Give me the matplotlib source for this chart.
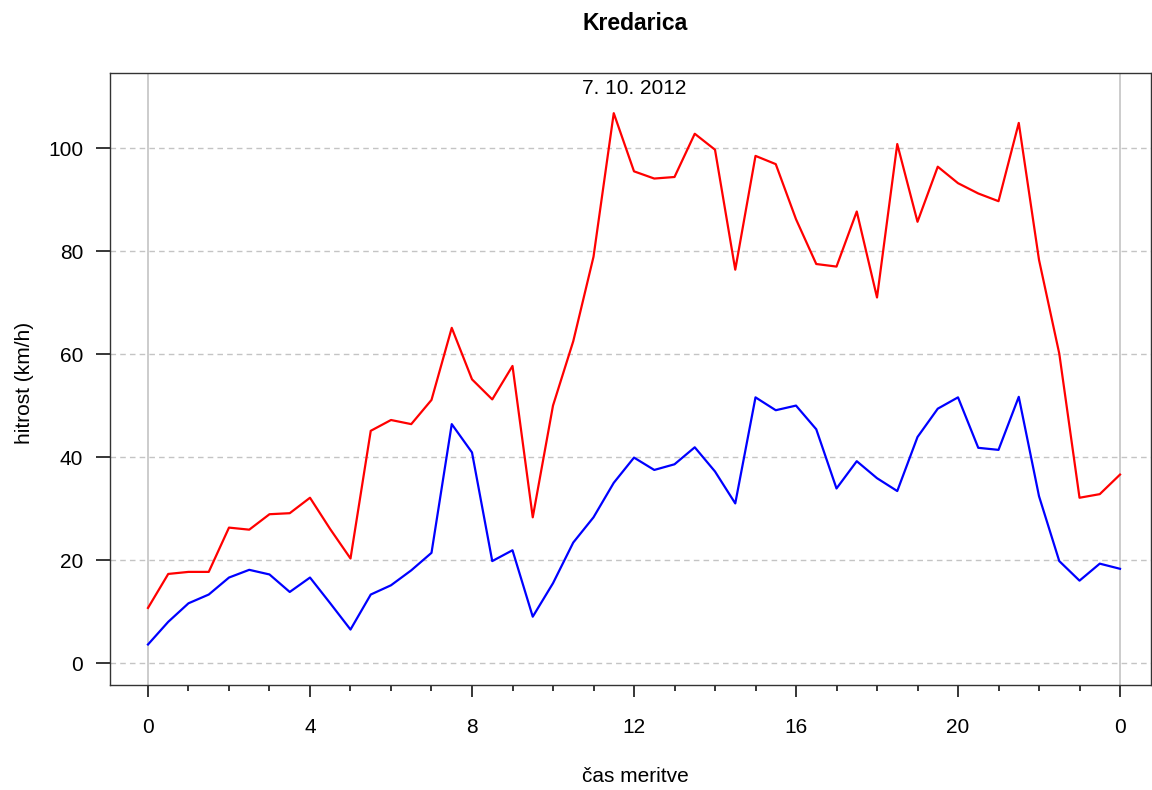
import matplotlib
matplotlib.use("Agg")
import matplotlib.pyplot as plt
from matplotlib.ticker import MultipleLocator

plt.rcParams['font.family'] = ['Liberation Sans', 'DejaVu Sans']

# half-hourly measurements, 0:00 to 24:00
hours = [i * 0.5 for i in range(49)]

gust_kmh = [10.7, 17.3, 17.7, 17.7, 26.3, 25.9, 28.9, 29.1, 32.1, 26.0,
            20.3, 45.1, 47.2, 46.4, 51.1, 65.1, 55.1, 51.2, 57.7, 28.3,
            50.0, 62.5, 78.9, 106.8, 95.5, 94.1, 94.4, 102.8, 99.7, 76.4,
            98.5, 96.9, 86.2, 77.5, 77.0, 87.7, 71.0, 100.8, 85.7, 96.4,
            93.2, 91.2, 89.7, 104.9, 78.3, 60.1, 32.1, 32.8, 36.6]

mean_kmh = [3.6, 8.0, 11.6, 13.3, 16.6, 18.1, 17.2, 13.8, 16.6, 11.6,
            6.5, 13.3, 15.1, 18.0, 21.4, 46.4, 40.9, 19.8, 21.9, 9.0,
            15.5, 23.4, 28.3, 35.0, 39.9, 37.5, 38.6, 41.9, 37.2, 31.0,
            51.6, 49.1, 50.0, 45.4, 33.9, 39.2, 35.9, 33.4, 43.9, 49.4,
            51.6, 41.8, 41.4, 51.7, 32.4, 19.8, 16.0, 19.3, 18.3]

x_ticks = [0, 4, 8, 12, 16, 20, 24]
x_tick_labels = ["0", "4", "8", "12", "16", "20", "0"]
y_ticks = [0, 20, 40, 60, 80, 100]

title = "Kredarica"
date_label = "7. 10. 2012"
x_label = "čas meritve"
y_label = "hitrost (km/h)"

W, H = 1152, 790
fig = plt.figure(figsize=(W / 100, H / 100), dpi=100)
ax_left, ax_right, ax_top, ax_bottom = 110, 1151, 73, 685
ax = fig.add_axes([ax_left / W, 1 - ax_bottom / H,
                   (ax_right - ax_left) / W, (ax_bottom - ax_top) / H])

ax.set_xlim(-0.938, 24.765)
ax.set_ylim(-4.27, 114.6)

for y in y_ticks:
    ax.axhline(y, color="#c4c4c4", lw=1.0, ls=(0, (4, 3)), zorder=1)
for x in (0, 24):
    ax.axvline(x, color="#c4c4c4", lw=1.2, zorder=1)

ax.plot(hours, gust_kmh, color="#ff0000", lw=1.6, zorder=3)
ax.plot(hours, mean_kmh, color="#0000ff", lw=1.6, zorder=3)

ax.set_xticks(x_ticks)
ax.set_xticklabels(x_tick_labels)
ax.xaxis.set_minor_locator(MultipleLocator(1))
ax.set_yticks(y_ticks)

ax.tick_params(axis="x", which="major", length=8.6, width=1.1, pad=15.5,
               labelsize=15, direction="out")
ax.tick_params(axis="x", which="minor", length=4.5, width=1.1, direction="out")
ax.tick_params(axis="y", which="major", length=10, width=1.1, pad=9.4,
               labelsize=15, direction="out")

for s in ax.spines.values():
    s.set_color("#333333")
    s.set_linewidth(1.0)

ax.set_xlabel(x_label, fontsize=15)
ax.xaxis.label.set_va("center")
ax.xaxis.set_label_coords(0.5 + (635 - 630.5) / (ax_right - ax_left),
                          -(777 - ax_bottom) / (ax_bottom - ax_top))
ax.set_ylabel(y_label, fontsize=15)
ax.yaxis.label.set_va("center")
ax.yaxis.set_label_coords(-(ax_left - 24) / (ax_right - ax_left),
                          (ax_bottom - 383) / (ax_bottom - ax_top))

fig.text(635 / W, 1 - 24 / H, title, ha="center", va="center",
         fontsize=16.5, fontweight="bold")
ax.text(12, 1.0 - 15 / (ax_bottom - ax_top), date_label,
        transform=ax.get_xaxis_transform(),
        ha="center", va="center", fontsize=15)

fig.savefig("out.png", dpi=100, facecolor="white")
